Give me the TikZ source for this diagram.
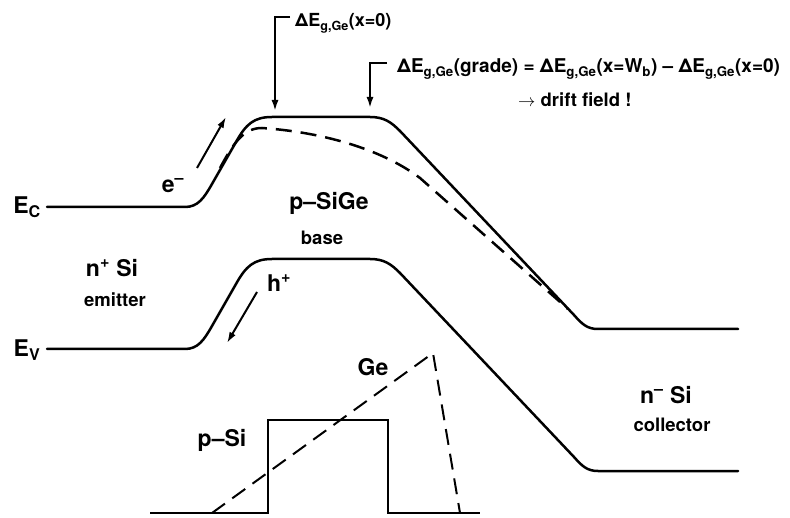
\documentclass[tikz,border=0pt]{standalone}
\usepackage{fontspec}
\setmainfont{TeX Gyre Heros}
\usetikzlibrary{arrows.meta}

\def\bandpath{(47,207) -- (185,207) .. controls (198,207) and (204,198) .. (212,184) -- (236,142) .. controls (246,124) and (254,117) .. (272,117) -- (370,117) .. controls (384,117) and (391,122) .. (400,131) -- (574,315) .. controls (582,324) and (587,329) .. (598,329) -- (738,329)}

\begin{document}
\begin{tikzpicture}[x=1pt, y=-1pt,
    band/.style={line width=2.5pt, line join=round, line cap=round},
    dashband/.style={line width=2.5pt, dash pattern=on 16pt off 9pt},
    profile/.style={line width=2pt, line join=miter},
    arrow/.style={line width=2pt, -{Latex[length=11pt, width=7pt]}},
    big/.style={font=\fontsize{23}{25}\selectfont\bfseries, inner sep=0pt},
    small/.style={font=\fontsize{18.5}{20}\selectfont\bfseries, inner sep=0pt},
    note/.style={font=\fontsize{19}{21}\selectfont\bfseries, inner sep=0pt, anchor=base west}
]
\useasboundingbox (0,0) rectangle (790,518);

\draw[band] \bandpath;
\draw[band, yshift=-142pt] \bandpath;
\draw[dashband] (220,168) .. controls (234,142) and (244,128) .. (262,128) .. controls (320,132) and (380,148) .. (420,178) -- (568,309);

\draw[profile] (150,513) -- (268,513) -- (268,420) -- (388,420) -- (388,513) -- (480,513);
\draw[dashband, line width=2pt] (212,513) -- (433,353) -- (460,513);

\node[big] (ec) at (27,207) {E\textsubscript{C}};
\node[big] (ev) at (27,350) {E\textsubscript{V}};
\node[big] (emit) at (112,268) {n\textsuperscript{+} Si};
\node[small] (emitsub) at (115,300) {emitter};
\node[big] (base) at (329,203) {p–SiGe};
\node[small] (basesub) at (322,238) {base};
\node[big] (coll) at (666,395) {n\textsuperscript{–} Si};
\node[small] (collsub) at (672,425) {collector};
\node[big] (elec) at (173,186) {e\textsuperscript{–}};
\node[big] (hole) at (279,283) {h\textsuperscript{+}};
\node[big] (ge) at (373,367) {Ge};
\node[big] (psi) at (222,440) {p–Si};

\coordinate (eA) at (197,168);
\coordinate (eB) at (226,117);
\coordinate (hA) at (257,292);
\coordinate (hB) at (227,343);
\draw[arrow] (eA) -- (eB);
\draw[arrow] (hA) -- (hB);

\node[note, font=\fontsize{18}{20}\selectfont\bfseries] (dzero) at (295,27) {ΔE\textsubscript{g,Ge}(x=0)};
\node[note] (dgrade) at (397,73) {ΔE\textsubscript{g,Ge}(grade) = ΔE\textsubscript{g,Ge}(x=W\textsubscript{b}) – ΔE\textsubscript{g,Ge}(x=0)};
\node[note, font=\fontsize{18.5}{20}\selectfont\bfseries] (drift) at (518,107) {$\rightarrow$ drift field !};

\coordinate (zbar) at (290,17);
\coordinate (ztop) at (275,17);
\coordinate (pzero) at (275,111);
\coordinate (gbar) at (387,63);
\coordinate (gtop) at (370,63);
\coordinate (pgrade) at (370,108);
\draw[arrow] (zbar) -- (ztop) -- (pzero);
\draw[arrow] (gbar) -- (gtop) -- (pgrade);

\end{tikzpicture}
\end{document}
